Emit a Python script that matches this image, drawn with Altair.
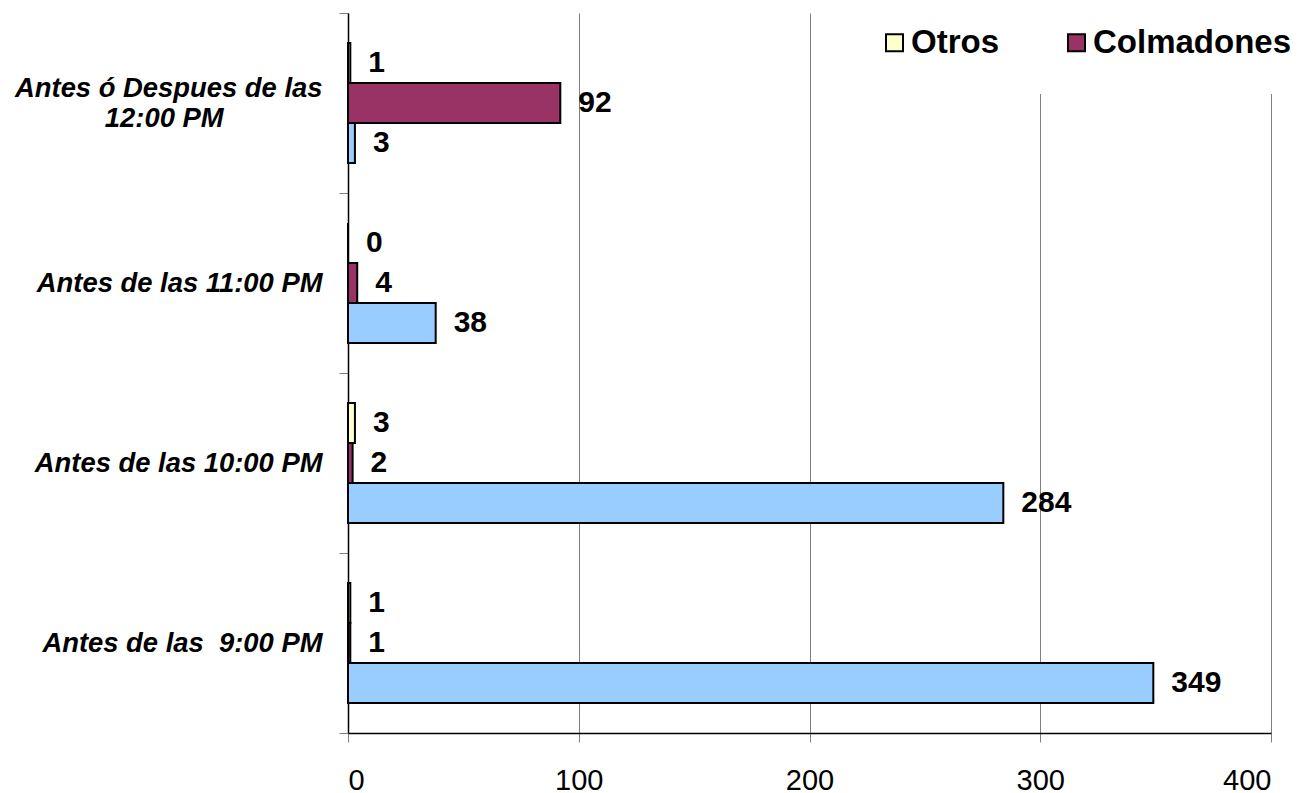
import altair as alt
import pandas as pd

# Categories (top to bottom). '|' marks a line break in the axis label.
NB = "\u00a0"
ZW = "\u200b"
categorias = [
    "Antes ó Despues de las|" + NB + ZW + "|12:00 PM" + NB * 13 + ZW,
    "|Antes de las 11:00 PM",
    "|Antes de las 10:00 PM",
    "|Antes de las " + NB + "9:00 PM",
]
series = ["Otros", "Colmadones", "Serie 1"]
otros = [1, 0, 3, 1]
colmadones = [92, 4, 2, 1]
serie1 = [3, 38, 284, 349]
colores = ["#FFFFCC", "#993366", "#99CCFF"]
ticks_x = [0, 100, 200, 300, 400]

rows = []
for i, c in enumerate(categorias):
    rows.append({"categoria": c, "serie": "Otros", "valor": otros[i]})
    rows.append({"categoria": c, "serie": "Colmadones", "valor": colmadones[i]})
    rows.append({"categoria": c, "serie": "Serie 1", "valor": serie1[i]})
df = pd.DataFrame(rows)

FONT = "Liberation Sans, Arial, sans-serif"

base = alt.Chart(df).encode(
    y=alt.Y(
        "categoria:N",
        sort=categorias,
        title=None,
        scale=alt.Scale(paddingInner=0, paddingOuter=0),
        axis=alt.Axis(
            labelExpr="split(datum.label, '|')",
            labelFont=FONT,
            labelFontSize=27.4,
            labelFontWeight="bold",
            labelFontStyle="italic",
            labelColor="black",
            labelLineHeight=15,
            labelOffset=-15,
            labelPadding=17,
            labelLimit=400,
            tickSize=9,
            tickColor="#808080",
            tickBand="extent",
            domainColor="black",
            domainWidth=1.5,
            grid=False,
        ),
    ),
    yOffset=alt.YOffset(
        "serie:N",
        sort=series,
        scale=alt.Scale(paddingInner=0, paddingOuter=0.75),
    ),
    x=alt.X(
        "valor:Q",
        title=None,
        scale=alt.Scale(domain=[0, 400], nice=False),
        axis=alt.Axis(
            values=ticks_x,
            labelFont=FONT,
            labelFontSize=29,
            labelColor="black",
            labelPadding=24,
            tickSize=9,
            tickColor="#808080",
            domainColor="black",
            domainWidth=1.5,
            grid=True,
            gridColor="#808080",
            gridWidth=1,
        ),
    ),
)

bars = base.mark_bar(stroke="black", strokeWidth=2, opacity=1).encode(
    color=alt.Color(
        "serie:N",
        scale=alt.Scale(domain=series, range=colores),
        legend=alt.Legend(
            values=["Otros", "Colmadones"],
            title=None,
            orient="none",
            legendX=496,
            legendY=-21,
            direction="horizontal",
            symbolType="square",
            symbolSize=289,
            symbolStrokeColor="black",
            symbolStrokeWidth=2,
            symbolOpacity=1,
            labelFont=FONT,
            labelFontSize=33,
            labelFontWeight="bold",
            labelColor="black",
            labelOffset=0,
            columnPadding=60,
            padding=34,
            fillColor="white",
            labelLimit=400,
        ),
    )
)

labels = base.mark_text(
    align="left",
    baseline="middle",
    dx=18,
    font=FONT,
    fontSize=30,
    fontWeight="bold",
    color="black",
).encode(text=alt.Text("valor:Q"))

chart = (
    alt.layer(bars, labels)
    .properties(
        width=923,
        height=720,
        autosize=alt.AutoSizeParams(type="none"),
        padding={"left": 340, "top": 5, "right": 20, "bottom": 62},
        background="white",
    )
    .configure_view(stroke=None)
)

chart.save("out.html", embed_options={"renderer": "svg", "actions": False})
